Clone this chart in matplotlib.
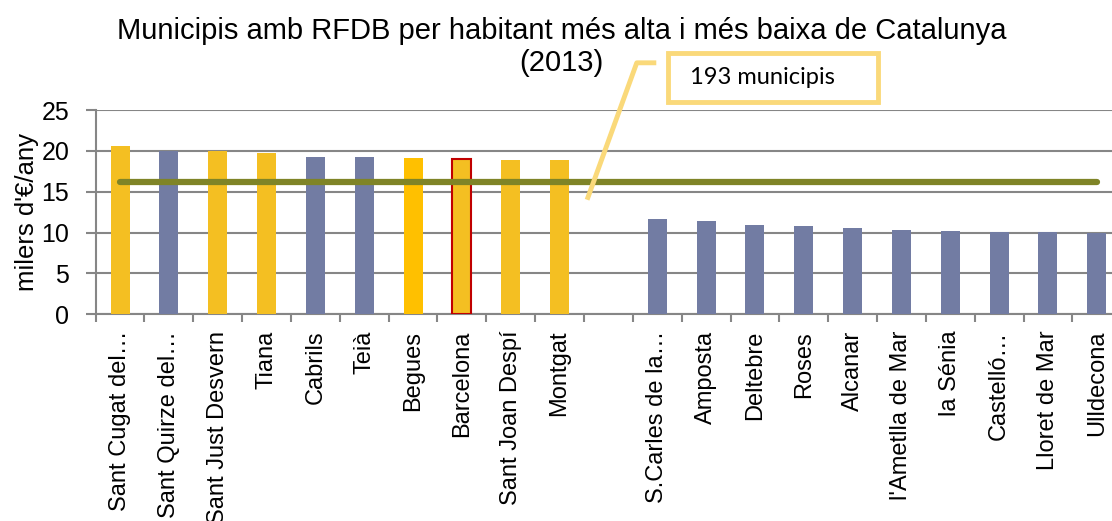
import matplotlib
matplotlib.use("Agg")
from matplotlib import pyplot as plt
from matplotlib.lines import Line2D
from matplotlib.patches import Rectangle

plt.rcParams['font.family'] = ['Liberation Sans', 'DejaVu Sans']

municipis = ["Sant Cugat del…", "Sant Quirze del…", "Sant Just Desvern", "Tiana", "Cabrils",
             "Teià", "Begues", "Barcelona", "Sant Joan Despí", "Montgat", "",
             "S.Carles de la…", "Amposta", "Deltebre", "Roses", "Alcanar",
             "l'Ametlla de Mar", "la Sénia", "Castelló…", "Lloret de Mar", "Ulldecona"]
rfdb = [20.6, 20.0, 20.0, 19.7, 19.2, 19.2, 19.1, 19.0, 18.9, 18.9, None,
        11.6, 11.4, 10.9, 10.8, 10.5, 10.3, 10.15, 10.07, 10.05, 10.0]
colors = ["#F4BF22", "#727CA3", "#F4BF22", "#F4BF22", "#727CA3", "#727CA3", "#FFC000",
          "#F4BF22", "#F4BF22", "#F4BF22", "none",
          "#727CA3", "#727CA3", "#727CA3", "#727CA3", "#727CA3", "#727CA3", "#727CA3",
          "#727CA3", "#727CA3", "#727CA3"]
mitjana_catalunya = 16.2
callout_text = "193 municipis"

fig = plt.figure(figsize=(11.12, 5.21), dpi=100)
ax = fig.add_axes([0.086, 0.397, 0.9223, 0.3916])

x = list(range(len(municipis)))
for i in x:
    if rfdb[i] is None:
        continue
    edge = "#C00000" if municipis[i] == "Barcelona" else colors[i]
    lw = 1.5 if municipis[i] == "Barcelona" else 0
    ax.bar(i, rfdb[i], width=0.39, color=colors[i], edgecolor=edge, linewidth=lw, zorder=3)

ax.plot([x[0], x[-1]], [mitjana_catalunya, mitjana_catalunya], color="#7F8427",
        linewidth=4.5, solid_capstyle="round", zorder=4)

ax.set_xlim(-0.5, len(municipis) - 0.5)
ax.set_ylim(0, 25)
ax.set_yticks([0, 5, 10, 15, 20, 25])
ax.yaxis.grid(True, color="#868686", linewidth=1.5, zorder=0)
ax.set_axisbelow(True)

ax.set_xticks(x)
ax.set_xticklabels(municipis, rotation=90, fontsize=17, va="top")
ax.set_xticks([i - 0.5 for i in range(len(municipis) + 1)], minor=True)
ax.tick_params(axis="x", which="major", length=0, pad=12)
ax.tick_params(axis="x", which="minor", length=6, width=1.5, color="#868686", direction="out")
ax.tick_params(axis="y", length=7, width=1.5, color="#868686", labelsize=18, pad=12)

for s in ["top", "right"]:
    ax.spines[s].set_visible(False)
for s in ["left", "bottom"]:
    ax.spines[s].set_color("#868686")
    ax.spines[s].set_linewidth(1.5)

ax.set_ylabel("milers d'€/any", fontsize=18.5, labelpad=2)

# title, two lines
fig.text(0.505, 0.9405, "Municipis amb RFDB per habitant més alta i més baixa de Catalunya",
         ha="center", va="center", fontsize=21)
fig.text(0.505, 0.879, "(2013)", ha="center", va="center", fontsize=21)

# callout
ax.add_line(Line2D([9.58, 10.58, 10.93], [14.3, 30.8, 30.8], color="#FAD97A", linewidth=3.5,
                   clip_on=False, zorder=5))
ax.add_patch(Rectangle((11.22, 26.0), 4.3, 6.0, facecolor="white", edgecolor="#FAD97A",
                       linewidth=3.5, clip_on=False, zorder=5))
ax.text(11.67, 29.0, callout_text, fontsize=17, family=["Lato", "DejaVu Sans"],
        va="center", ha="left", zorder=6)

fig.savefig("out.png", dpi=100)
